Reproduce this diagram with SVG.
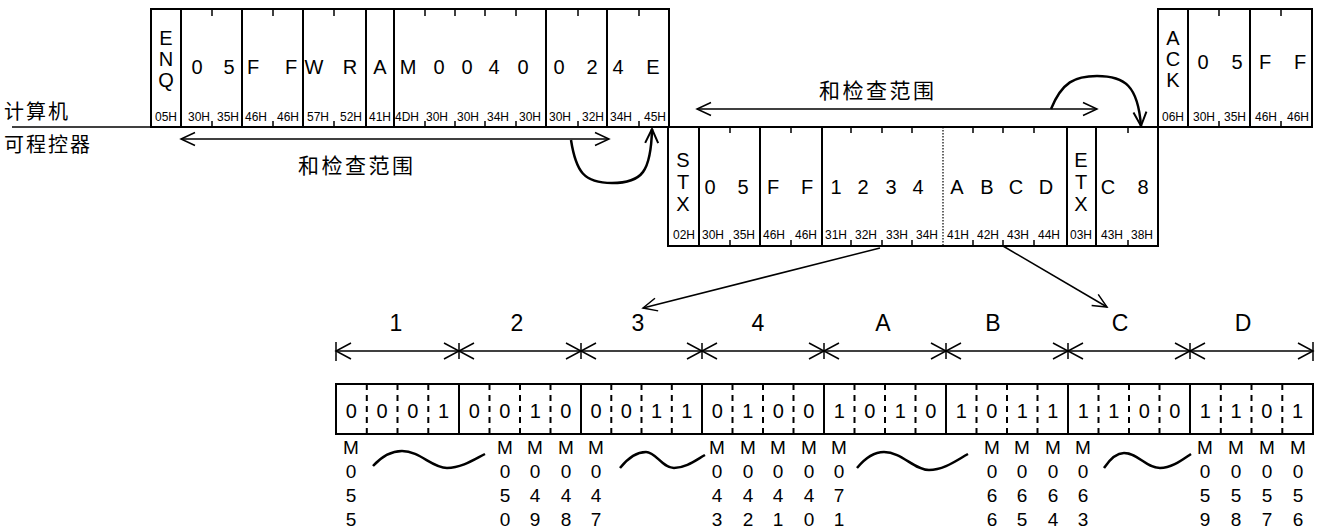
<svg xmlns="http://www.w3.org/2000/svg" width="1323" height="531" viewBox="0 0 1323 531">
<style>
text{font-family:"Liberation Sans",Arial,sans-serif;fill:#000;text-anchor:middle}
.c{font-size:20px}
.h{font-size:12px}
.b{font-size:20px}
.m{font-size:19px}
.seg{font-size:23px}
.zh{font-family:"Noto Sans CJK SC","Noto Sans CJK JP",sans-serif;font-size:20px;text-anchor:start}
.frame{fill:#fff;stroke:#000;stroke-width:2}
.div{stroke:#000;stroke-width:2}
.tick{stroke:#000;stroke-width:1.5}
.ln{stroke:#000;stroke-width:1.5;fill:none}
.curve{stroke:#000;stroke-width:2.5;fill:none}
.dash{stroke:#000;stroke-width:2;stroke-dasharray:6 5}
</style>
<defs>
<marker id="ah" viewBox="-16 -10 18 20" refX="0" refY="0" markerWidth="18" markerHeight="20" markerUnits="userSpaceOnUse" orient="auto-start-reverse">
<path d="M-14,-6.5 L0,0 L-14,6.5" fill="none" stroke="#000" stroke-width="1.5"/>
</marker>
<marker id="ahc" viewBox="-16 -10 18 20" refX="0" refY="0" markerWidth="18" markerHeight="20" markerUnits="userSpaceOnUse" orient="auto">
<path d="M-14,-6.5 L0,0 L-14,6.5" fill="none" stroke="#000" stroke-width="2"/>
</marker>
<marker id="ad" viewBox="-17 -10 19 20" refX="0" refY="0" markerWidth="19" markerHeight="20" markerUnits="userSpaceOnUse" orient="auto-start-reverse">
<path d="M-15,-8 L0,0 L-15,8" fill="none" stroke="#000" stroke-width="1.5"/>
</marker>
</defs>
<rect width="1323" height="531" fill="#fff"/>

<g id="timeline">
<line x1="12" y1="127" x2="1312" y2="127" class="ln"/>
<text class="zh" x="4" y="119" letter-spacing="2">计算机</text>
<text class="zh" x="4" y="152" letter-spacing="2">可程控器</text>
</g>

<g id="frame-computer">
<rect x="151" y="9" width="518" height="118" class="frame"/>
<path class="div" d="M181,9V127M242,9V127M303,9V127M366,9V127M394,9V127M546,9V127M607,9V127"/>
<path class="tick" d="M212,9v7M273,9v7M334,9v7M425,9v7M455,9v7M485,9v7M516,9v7M578,9v7M639,9v7M212,127v-6M273,127v-6M334,127v-6M425,127v-6M455,127v-6M485,127v-6M516,127v-6M578,127v-6M639,127v-6"/>
<text class="c" x="166" y="45">E</text><text class="c" x="166" y="66">N</text><text class="c" x="166" y="87">Q</text>
<text class="c" y="74"><tspan x="197">0</tspan><tspan x="229">5</tspan><tspan x="253">F</tspan><tspan x="291">F</tspan><tspan x="314">W</tspan><tspan x="350">R</tspan><tspan x="380">A</tspan><tspan x="408">M</tspan><tspan x="439">0</tspan><tspan x="467">0</tspan><tspan x="494">4</tspan><tspan x="523">0</tspan><tspan x="559">0</tspan><tspan x="592">2</tspan><tspan x="618">4</tspan><tspan x="653">E</tspan></text>
<text class="h" y="121"><tspan x="166">05H</tspan><tspan x="199">30H</tspan><tspan x="228">35H</tspan><tspan x="256">46H</tspan><tspan x="288">46H</tspan><tspan x="318">57H</tspan><tspan x="351">52H</tspan><tspan x="380">41H</tspan><tspan x="407">4DH</tspan><tspan x="437">30H</tspan><tspan x="468">30H</tspan><tspan x="498">34H</tspan><tspan x="530">30H</tspan><tspan x="560">30H</tspan><tspan x="593">32H</tspan><tspan x="621">34H</tspan><tspan x="655">45H</tspan></text>
</g>

<g id="frame-plc">
<rect x="668" y="127" width="490" height="119" class="frame"/>
<path class="div" d="M699,127V246M760,127V246M822,127V246M1067,127V246M1096,127V246"/>
<line x1="943" y1="127" x2="943" y2="246" stroke="#000" stroke-width="1.2" stroke-dasharray="1.5 1.5"/>
<path class="tick" d="M730,127v6M791,127v6M851,127v6M882,127v6M912,127v6M973,127v6M1003,127v6M1034,127v6M1128,127v6M730,246v-6M791,246v-6M851,246v-6M882,246v-6M912,246v-6M973,246v-6M1003,246v-6M1034,246v-6M1128,246v-6"/>
<text class="c" x="683" y="167">S</text><text class="c" x="683" y="189">T</text><text class="c" x="683" y="211">X</text>
<text class="c" x="1081" y="167">E</text><text class="c" x="1081" y="189">T</text><text class="c" x="1081" y="211">X</text>
<text class="c" y="194"><tspan x="710">0</tspan><tspan x="743">5</tspan><tspan x="773">F</tspan><tspan x="807">F</tspan><tspan x="836">1</tspan><tspan x="863">2</tspan><tspan x="891">3</tspan><tspan x="918">4</tspan><tspan x="957">A</tspan><tspan x="987">B</tspan><tspan x="1016">C</tspan><tspan x="1046">D</tspan><tspan x="1108">C</tspan><tspan x="1143">8</tspan></text>
<text class="h" y="239"><tspan x="684">02H</tspan><tspan x="713">30H</tspan><tspan x="744">35H</tspan><tspan x="774">46H</tspan><tspan x="806">46H</tspan><tspan x="836">31H</tspan><tspan x="866">32H</tspan><tspan x="897">33H</tspan><tspan x="927">34H</tspan><tspan x="958">41H</tspan><tspan x="988">42H</tspan><tspan x="1018">43H</tspan><tspan x="1049">44H</tspan><tspan x="1081">03H</tspan><tspan x="1112">43H</tspan><tspan x="1142">38H</tspan></text>
</g>

<g id="frame-ack">
<rect x="1158" y="9" width="154" height="118" class="frame"/>
<path class="div" d="M1188,9V127M1250,9V127"/>
<path class="tick" d="M1219,9v7M1281,9v7M1219,127v-6M1281,127v-6"/>
<text class="c" x="1173" y="45">A</text><text class="c" x="1173" y="66">C</text><text class="c" x="1173" y="87">K</text>
<text class="c" y="69"><tspan x="1203">0</tspan><tspan x="1237">5</tspan><tspan x="1265">F</tspan><tspan x="1300">F</tspan></text>
<text class="h" y="121"><tspan x="1173">06H</tspan><tspan x="1204">30H</tspan><tspan x="1235">35H</tspan><tspan x="1266">46H</tspan><tspan x="1298">46H</tspan></text>
</g>

<g id="sum-ranges">
<text class="zh" x="298" y="173" letter-spacing="2.5" style="font-size:21px">和检查范围</text>
<text class="zh" x="819" y="98" letter-spacing="2.5" style="font-size:21px">和检查范围</text>
</g>

<g id="bit-segments">
<text class="seg" y="331"><tspan x="396">1</tspan><tspan x="517">2</tspan><tspan x="638">3</tspan><tspan x="758">4</tspan><tspan x="883">A</tspan><tspan x="993">B</tspan><tspan x="1120">C</tspan><tspan x="1243">D</tspan></text>
</g>

<g id="bit-row">
<rect x="336" y="384" width="977" height="50" class="frame"/>
<path class="div" d="M459,384V434M581,384V434M702,384V434M824,384V434M946,384V434M1068,384V434M1190,384V434"/>
<path class="dash" d="M366.8,384V434M397.5,384V434M428.3,384V434M489.5,384V434M520,384V434M550.5,384V434M611.3,384V434M641.5,384V434M671.8,384V434M732.5,384V434M763,384V434M793.5,384V434M854.5,384V434M885,384V434M915.5,384V434M976.5,384V434M1007,384V434M1037.5,384V434M1098.5,384V434M1129,384V434M1159.5,384V434M1220.8,384V434M1251.5,384V434M1282.3,384V434"/>
<text class="b" y="418"><tspan x="351.4">0</tspan><tspan x="382.1">0</tspan><tspan x="412.9">0</tspan><tspan x="443.6">1</tspan><tspan x="474.3">0</tspan><tspan x="504.8">0</tspan><tspan x="535.3">1</tspan><tspan x="565.8">0</tspan><tspan x="596.1">0</tspan><tspan x="626.4">0</tspan><tspan x="656.6">1</tspan><tspan x="686.9">1</tspan><tspan x="717.3">0</tspan><tspan x="747.8">1</tspan><tspan x="778.3">0</tspan><tspan x="808.8">0</tspan><tspan x="839.3">1</tspan><tspan x="869.8">0</tspan><tspan x="900.3">1</tspan><tspan x="930.8">0</tspan><tspan x="961.3">1</tspan><tspan x="991.8">0</tspan><tspan x="1022.3">1</tspan><tspan x="1052.8">1</tspan><tspan x="1083.3">1</tspan><tspan x="1113.8">1</tspan><tspan x="1144.3">0</tspan><tspan x="1174.8">0</tspan><tspan x="1205.4">1</tspan><tspan x="1236.1">1</tspan><tspan x="1266.9">0</tspan><tspan x="1297.6">1</tspan></text>
</g>

<g id="relay-labels">
<text class="m"><tspan x="351" y="454">M</tspan><tspan x="351" y="478">0</tspan><tspan x="351" y="502">5</tspan><tspan x="351" y="526">5</tspan></text>
<text class="m"><tspan x="505" y="454">M</tspan><tspan x="505" y="478">0</tspan><tspan x="505" y="502">5</tspan><tspan x="505" y="526">0</tspan></text>
<text class="m"><tspan x="535" y="454">M</tspan><tspan x="535" y="478">0</tspan><tspan x="535" y="502">4</tspan><tspan x="535" y="526">9</tspan></text>
<text class="m"><tspan x="566" y="454">M</tspan><tspan x="566" y="478">0</tspan><tspan x="566" y="502">4</tspan><tspan x="566" y="526">8</tspan></text>
<text class="m"><tspan x="596" y="454">M</tspan><tspan x="596" y="478">0</tspan><tspan x="596" y="502">4</tspan><tspan x="596" y="526">7</tspan></text>
<text class="m"><tspan x="717" y="454">M</tspan><tspan x="717" y="478">0</tspan><tspan x="717" y="502">4</tspan><tspan x="717" y="526">3</tspan></text>
<text class="m"><tspan x="748" y="454">M</tspan><tspan x="748" y="478">0</tspan><tspan x="748" y="502">4</tspan><tspan x="748" y="526">2</tspan></text>
<text class="m"><tspan x="778" y="454">M</tspan><tspan x="778" y="478">0</tspan><tspan x="778" y="502">4</tspan><tspan x="778" y="526">1</tspan></text>
<text class="m"><tspan x="809" y="454">M</tspan><tspan x="809" y="478">0</tspan><tspan x="809" y="502">4</tspan><tspan x="809" y="526">0</tspan></text>
<text class="m"><tspan x="839" y="454">M</tspan><tspan x="839" y="478">0</tspan><tspan x="839" y="502">7</tspan><tspan x="839" y="526">1</tspan></text>
<text class="m"><tspan x="992" y="454">M</tspan><tspan x="992" y="478">0</tspan><tspan x="992" y="502">6</tspan><tspan x="992" y="526">6</tspan></text>
<text class="m"><tspan x="1022" y="454">M</tspan><tspan x="1022" y="478">0</tspan><tspan x="1022" y="502">6</tspan><tspan x="1022" y="526">5</tspan></text>
<text class="m"><tspan x="1053" y="454">M</tspan><tspan x="1053" y="478">0</tspan><tspan x="1053" y="502">6</tspan><tspan x="1053" y="526">4</tspan></text>
<text class="m"><tspan x="1083" y="454">M</tspan><tspan x="1083" y="478">0</tspan><tspan x="1083" y="502">6</tspan><tspan x="1083" y="526">3</tspan></text>
<text class="m"><tspan x="1205" y="454">M</tspan><tspan x="1205" y="478">0</tspan><tspan x="1205" y="502">5</tspan><tspan x="1205" y="526">9</tspan></text>
<text class="m"><tspan x="1236" y="454">M</tspan><tspan x="1236" y="478">0</tspan><tspan x="1236" y="502">5</tspan><tspan x="1236" y="526">8</tspan></text>
<text class="m"><tspan x="1267" y="454">M</tspan><tspan x="1267" y="478">0</tspan><tspan x="1267" y="502">5</tspan><tspan x="1267" y="526">7</tspan></text>
<text class="m"><tspan x="1298" y="454">M</tspan><tspan x="1298" y="478">0</tspan><tspan x="1298" y="502">5</tspan><tspan x="1298" y="526">6</tspan></text>
<path class="curve" d="M373,466 C383,455 392,451 402,451 C420,451 432,468 447,468 C462,468 475,459 485,454"/>
<path class="curve" d="M620,468 C628,458 636,452 646,452 C656,452 662,468 674,468 C686,468 696,460 705,455"/>
<path class="curve" d="M857,468 C866,457 874,452 884,452 C902,452 914,470 929,470 C944,470 957,460 968,454"/>
<path class="curve" d="M1104,468 C1110,459 1116,453 1124,453 C1138,453 1146,468 1160,468 C1172,468 1182,460 1191,454"/>
</g>

<g id="connectors">
<line x1="181" y1="139" x2="609" y2="139" class="ln" marker-start="url(#ah)" marker-end="url(#ah)"/>
<line x1="697" y1="109" x2="1097" y2="109" class="ln" marker-start="url(#ah)" marker-end="url(#ah)"/>
<path class="curve" d="M571,140 C576,172 584,183 612,183 C642,183 651,172 652,129" marker-end="url(#ahc)"/>
<path class="curve" d="M1051,109 C1062,82 1075,76 1097,76 C1125,76 1138,86 1141,126" marker-end="url(#ahc)"/>
<line x1="880" y1="248" x2="643" y2="308" class="ln" marker-end="url(#ah)"/>
<line x1="1003" y1="246" x2="1107" y2="307" class="ln" marker-end="url(#ah)"/>
<g class="ln" marker-start="url(#ad)" marker-end="url(#ad)">
<line x1="336" y1="351" x2="459" y2="351"/>
<line x1="459" y1="351" x2="581" y2="351"/>
<line x1="581" y1="351" x2="702" y2="351"/>
<line x1="702" y1="351" x2="824" y2="351"/>
<line x1="824" y1="351" x2="946" y2="351"/>
<line x1="946" y1="351" x2="1068" y2="351"/>
<line x1="1068" y1="351" x2="1190" y2="351"/>
<line x1="1190" y1="351" x2="1313" y2="351"/>
</g>
<path class="tick" d="M336,342V361M459,343V359M581,343V359M702,343V359M824,343V359M946,343V359M1068,343V359M1190,343V359M1313,342V361"/>
</g>
</svg>
